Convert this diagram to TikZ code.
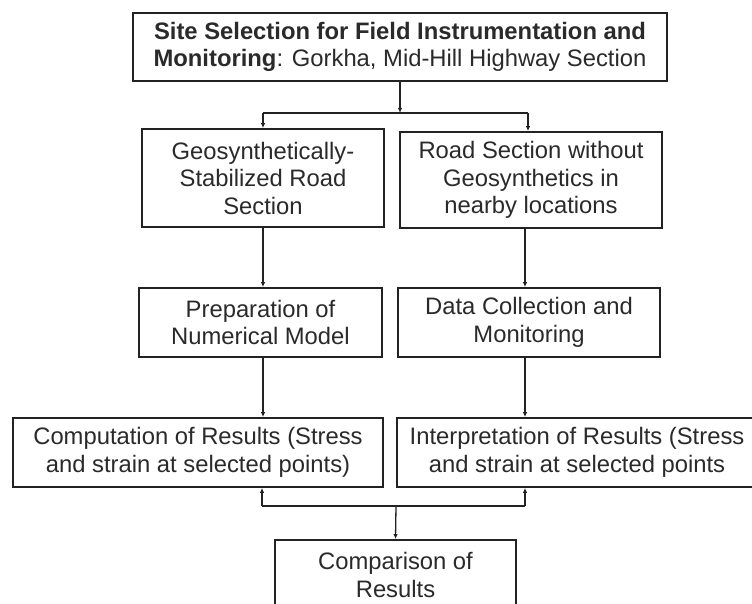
\documentclass[tikz,border=0pt]{standalone}
\usepackage{fontspec}
\setmainfont{Liberation Sans}
\usetikzlibrary{arrows.meta}
\definecolor{boxline}{HTML}{222222}
\definecolor{txt}{HTML}{2A2A2A}
\begin{document}
\begin{tikzpicture}[x=1pt,y=-1pt,
  box/.style={draw=boxline,line width=1.8pt,fill=white,align=center,inner sep=0pt,
    text=txt,font=\fontsize{23.8}{27.5}\selectfont},
  conn/.style={draw=boxline,line width=1.3pt,-{Latex[length=5pt,width=4.5pt]}},
  plain/.style={draw=boxline,line width=1.3pt}]
\useasboundingbox[fill=white] (0,0) rectangle (752,604);
\node[box,minimum width=534pt,minimum height=68pt] (top) at (400,47)
  {\textbf{Site Selection for Field Instrumentation and}\\\textbf{Monitoring}: Gorkha, Mid-Hill Highway Section};
\node[box,minimum width=242pt,minimum height=98pt] (g) at (263,178)
  {Geosynthetically-\\Stabilized Road\\Section};
\node[box,minimum width=262pt,minimum height=96pt] (r) at (531,180)
  {Road Section without\\Geosynthetics in\\nearby locations};
\node[box,minimum width=243pt,minimum height=69pt] (p) at (260.5,322.5)
  {Preparation of\\Numerical Model};
\node[box,minimum width=262pt,minimum height=69pt] (d) at (529,322.5)
  {Data Collection and\\Monitoring};
\node[box,minimum width=370pt,minimum height=69pt] (c) at (198,452.5)
  {Computation of Results (Stress\\and strain at selected points)};
\node[box,minimum width=360pt,minimum height=69pt] (i) at (577,452.5)
  {Interpretation of Results (Stress\\and strain at selected points};
\node[box,minimum width=241pt,minimum height=70pt] (cmp) at (395.5,575)
  {Comparison of\\Results};
% top split
\coordinate (split) at (400,113);
\coordinate (gx) at (263,113);
\coordinate (rx) at (528,113);
\draw[conn] (top.south) -- (split);
\draw[plain] (gx) -- (rx);
\draw[conn] (gx) -- (gx |- g.north);
\draw[conn] (rx) -- (rx |- r.north);
% middle columns
\coordinate (lc) at (263,0);
\coordinate (rc) at (525,0);
\draw[conn] (lc |- g.south) -- (lc |- p.north);
\draw[conn] (rc |- r.south) -- (rc |- d.north);
\draw[conn] (lc |- p.south) -- (lc |- c.north);
\draw[conn] (rc |- d.south) -- (rc |- i.north);
% bottom join
\coordinate (join) at (396,506);
\coordinate (jl) at (262,506);
\coordinate (jr) at (525,506);
\draw[plain] (jl) -- (jr);
\draw[conn] (jl) -- (jl |- c.south);
\draw[conn] (jr) -- (jr |- i.south);
\draw[conn] (join) -- (cmp.north);
\end{tikzpicture}
\end{document}
